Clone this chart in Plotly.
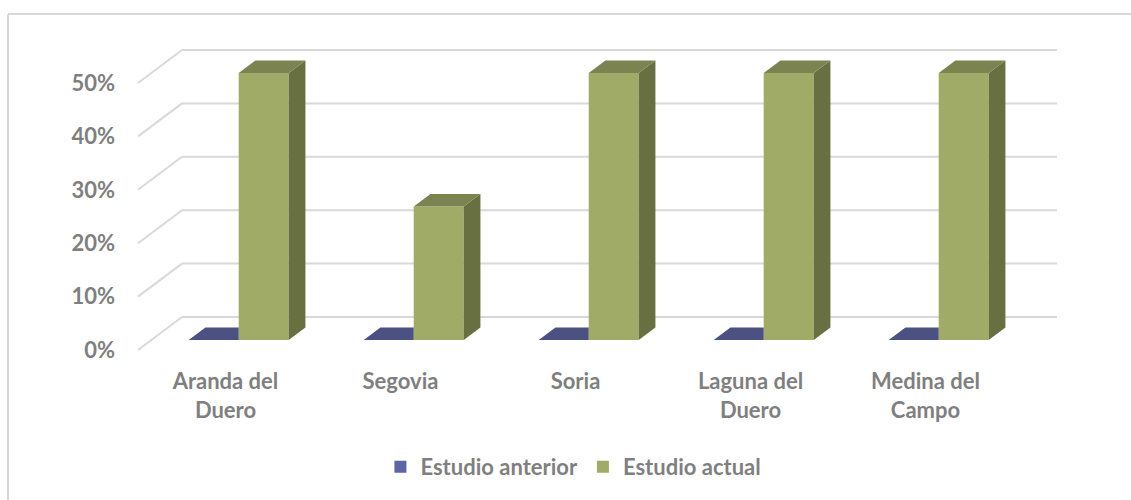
import plotly.graph_objects as go

# ---- data ----
categories = ["Aranda del<br>Duero", "Segovia", "Soria", "Laguna del<br>Duero", "Medina del<br>Campo"]
series_names = ["Estudio anterior", "Estudio actual"]
estudio_anterior = [0.0, 0.0, 0.0, 0.0, 0.0]
estudio_actual = [0.50, 0.25, 0.50, 0.50, 0.50]
y_ticks = [0.0, 0.1, 0.2, 0.3, 0.4, 0.5]

# ---- styling / 3D projection parameters ----
W, H = 1131, 500
ML, MR, MT, MB = 130, 55, 40, 140
PX_X = 175.0   # pixels per category unit
PX_Y = 534.0   # pixels per value unit (1.0 = 100%)
DX = 44.0 / PX_X   # full depth offset (x units)
DY = 33.0 / PX_Y   # full depth offset (y units)
T_FRONT = 0.30     # bar front face depth
T_DEPTH = 0.38     # bar depth
BW = 50.0 / PX_X   # bar width

x0 = -0.5 - 8.0 / PX_X
x1 = x0 + (W - ML - MR) / PX_X
y0 = -(MT + (H - MT - MB) - 350) / PX_Y
y1 = (350 - MT) / PX_Y

GRID = "#D9D9D9"
TXT = "#7F7F7F"
BLUE_FRONT, BLUE_TOP = "#5E65A5", "#4B5181"
GREEN_FRONT, GREEN_TOP, GREEN_SIDE = "#A0AB68", "#7B8450", "#687042"
FONT = "Lato"

fig = go.Figure()

ddx, ddy = T_DEPTH * DX, T_DEPTH * DY
base = T_FRONT * DY
shift = T_FRONT * DX

PW, PH = W - ML - MR, H - MT - MB

# gridlines on side wall and back wall
shapes = []
for v in y_ticks:
    shapes.append(dict(type="line", xref="x", yref="y", layer="below",
                       x0=-0.5, y0=v, x1=-0.5 + DX, y1=v + DY,
                       line=dict(color=GRID, width=2)))
    shapes.append(dict(type="line", xref="x", yref="y", layer="below",
                       x0=-0.5 + DX, y0=v + DY, x1=len(categories) - 0.5 + DX, y1=v + DY,
                       line=dict(color=GRID, width=2)))
# outer chart border (top and left)
top_y = 1 + (MT - 14) / PH
left_x = -(ML - 8) / PW
shapes.append(dict(type="line", xref="paper", yref="paper", x0=left_x, x1=1 + MR / PW,
                   y0=top_y, y1=top_y, line=dict(color=GRID, width=2)))
shapes.append(dict(type="line", xref="paper", yref="paper", x0=left_x, x1=left_x,
                   y0=-MB / PH, y1=top_y, line=dict(color=GRID, width=2)))

xs = list(range(len(categories)))
blue_x = [i + shift - BW / 2 for i in xs]
green_x = [i + shift + BW / 2 for i in xs]

# front faces as bars
fig.add_trace(go.Bar(x=blue_x, y=estudio_anterior, base=[base] * len(xs), width=BW,
                     name=series_names[0], marker=dict(color=BLUE_FRONT, line=dict(width=0)),
                     hoverinfo="skip"))
fig.add_trace(go.Bar(x=green_x, y=estudio_actual, base=[base] * len(xs), width=BW,
                     name=series_names[1], marker=dict(color=GREEN_FRONT, line=dict(width=0)),
                     hoverinfo="skip"))


def poly(px, py, color):
    fig.add_trace(go.Scatter(x=px + [px[0]], y=py + [py[0]], mode="lines", fill="toself",
                             fillcolor=color, line=dict(width=0, color=color),
                             showlegend=False, hoverinfo="skip"))


for i in xs:
    # blue bar (top face, clipped where the green front face hides it)
    bl, br = blue_x[i] - BW / 2, blue_x[i] + BW / 2
    bt = base + estudio_anterior[i]
    poly([bl, br, br, bl + ddx], [bt, bt, bt + ddy, bt + ddy], BLUE_TOP)
    # green bar
    gl, gr = green_x[i] - BW / 2, green_x[i] + BW / 2
    gt = base + estudio_actual[i]
    poly([gr, gr + ddx, gr + ddx, gr], [base, base + ddy, gt + ddy, gt], GREEN_SIDE)
    poly([gl, gr, gr + ddx, gl + ddx], [gt, gt, gt + ddy, gt + ddy], GREEN_TOP)

font_bold = dict(family=FONT, size=22, color=TXT, weight="bold")

fig.update_layout(
    width=W, height=H,
    margin=dict(l=ML, r=MR, t=MT, b=MB),
    paper_bgcolor="white", plot_bgcolor="white",
    barmode="overlay",
    shapes=shapes,
    showlegend=True,
    hovermode=False,
    legend=dict(orientation="h", xref="container", yref="container",
                x=0.507, xanchor="center", y=0.066, yanchor="middle",
                font=font_bold, traceorder="normal", itemclick=False),
    xaxis=dict(range=[x0, x1], tickvals=xs, ticktext=categories, showgrid=False,
               zeroline=False, showline=False, ticks="", tickfont=font_bold,
               ticklabelstandoff=6, fixedrange=True),
    yaxis=dict(range=[y0, y1], tickvals=y_ticks, tickformat=".0%", showgrid=False,
               zeroline=False, showline=False, ticks="", tickfont=font_bold,
               ticklabelstandoff=14, fixedrange=True),
)

fig.write_html("out.html", config={"displayModeBar": False},
               post_script="document.body.style.margin='0';")
